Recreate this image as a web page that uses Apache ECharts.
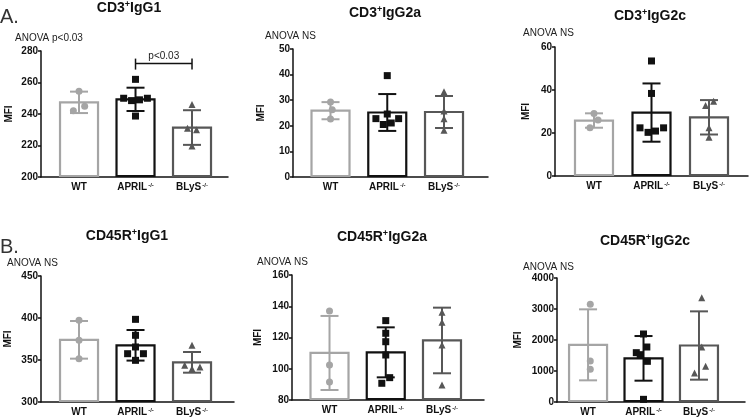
<!DOCTYPE html>
<html><head><meta charset="utf-8">
<script src="https://cdn.jsdelivr.net/npm/echarts@6/dist/echarts.min.js"></script>
<style>html,body{margin:0;padding:0;background:#fff;}#c{width:750px;height:419px;}</style>
</head><body><div id="c"></div>
<script>
// ---------- DATA ----------
const categories = ['WT', 'APRIL', 'BLyS'];
const categorySup = ['', '-/-', '-/-'];
const panelTitleMain = ['CD3', 'CD3', 'CD3', 'CD45R', 'CD45R', 'CD45R'];
const panelTitleSub = ['IgG1', 'IgG2a', 'IgG2c', 'IgG1', 'IgG2a', 'IgG2c'];
const anovaLabels = ['ANOVA p<0.03', 'ANOVA NS', 'ANOVA NS', 'ANOVA NS', 'ANOVA NS', 'ANOVA NS'];
const rowLetters = ['A.', 'B.'];
const yMin = [200, 0, 0, 300, 80, 0];
const yMax = [280, 50, 60, 450, 160, 4000];
const yInterval = [20, 10, 20, 50, 20, 1000];
const yAxisName = 'MFI';

// CD3+ IgG1
const cd3IgG1Mean = [247.4, 249.3, 231.4];
const cd3IgG1SD = [6.8, 7.4, 11.0];
const cd3IgG1WT = [254.5, 245, 242];
const cd3IgG1APRIL = [262, 250, 248.5, 249, 250, 238.7];
const cd3IgG1BLyS = [246, 231, 230, 219.7];
const cd3IgG1Bracket = [1, 2, 272, 'p<0.03'];

// CD3+ IgG2a
const cd3IgG2aMean = [25.9, 25.2, 25.4];
const cd3IgG2aSD = [3.35, 7.2, 6.25];
const cd3IgG2aWT = [29.3, 26.3, 22.7];
const cd3IgG2aAPRIL = [39.6, 24.6, 22.8, 20.5, 21.1, 22.8];
const cd3IgG2aBLyS = [33.3, 25.8, 22.8, 18.3];

// CD3+ IgG2c
const cd3IgG2cMean = [25.8, 29.5, 27.3];
const cd3IgG2cSD = [3.35, 13.55, 8.0];
const cd3IgG2cWT = [29.1, 26.0, 22.4];
const cd3IgG2cAPRIL = [53.5, 38.4, 22.4, 20.3, 20.9, 22.4];
const cd3IgG2cBLyS = [32.8, 34.8, 22.4, 18.0];

// CD45R+ IgG1
const cd45IgG1Mean = [374, 367.5, 347.2];
const cd45IgG1SD = [22.4, 18.2, 12.3];
const cd45IgG1WT = [397.2, 373.4, 351.6];
const cd45IgG1APRIL = [398.4, 379.4, 365.5, 357.5, 357.5, 349.6];
const cd45IgG1BLyS = [367.5, 343.7, 339.7, 341.7];

// CD45R+ IgG2a
const cd45IgG2aMean = [110.1, 110.5, 118.1];
const cd45IgG2aSD = [23.7, 16.0, 21.0];
const cd45IgG2aWT = [137, 102.4, 91.5];
const cd45IgG2aAPRIL = [130.8, 122.7, 117.3, 108.8, 94.3, 90.7];
const cd45IgG2aBLyS = [136.1, 129.7, 115.2, 89.6];

// CD45R+ IgG2c
const cd45IgG2cMean = [1844, 1408, 1822];
const cd45IgG2cSD = [1145, 720, 1102];
const cd45IgG2cWT = [3150, 1323, 1054];
const cd45IgG2cAPRIL = [2194, 1774, 1591, 1527, 1312, 86];
const cd45IgG2cBLyS = [3366, 1774, 1150, 935];

const panelMeans = [cd3IgG1Mean, cd3IgG2aMean, cd3IgG2cMean, cd45IgG1Mean, cd45IgG2aMean, cd45IgG2cMean];
const panelSDs = [cd3IgG1SD, cd3IgG2aSD, cd3IgG2cSD, cd45IgG1SD, cd45IgG2aSD, cd45IgG2cSD];
const panelPoints = [
  [cd3IgG1WT, cd3IgG1APRIL, cd3IgG1BLyS],
  [cd3IgG2aWT, cd3IgG2aAPRIL, cd3IgG2aBLyS],
  [cd3IgG2cWT, cd3IgG2cAPRIL, cd3IgG2cBLyS],
  [cd45IgG1WT, cd45IgG1APRIL, cd45IgG1BLyS],
  [cd45IgG2aWT, cd45IgG2aAPRIL, cd45IgG2aBLyS],
  [cd45IgG2cWT, cd45IgG2cAPRIL, cd45IgG2cBLyS]
];

// ---------- LAYOUT / STYLE ----------
// horizontal scatter spread (fraction of category spacing)
const spread = [
  [[0, 0.1, -0.1], [0, -0.21, -0.07, 0.07, 0.21, 0], [0, -0.08, 0.08, 0]],
  [[0, 0.03, 0], [0, 0, -0.2, -0.07, 0.07, 0.2], [0, 0, 0, 0]],
  [[0, 0.07, -0.07], [0, 0, -0.2, -0.06, 0.07, 0.21], [-0.06, 0.08, 0, 0]],
  [[0, 0, 0], [0, 0, 0, -0.14, 0.14, 0], [0, -0.13, 0, 0.14]],
  [[0, 0, 0], [0, 0, 0, 0, 0.07, -0.07], [0, 0, 0, 0]],
  [[0.04, 0.04, 0.04], [0, 0.06, -0.13, -0.06, 0.07, 0], [0.05, 0.05, 0.12, -0.08]]
];
const gridBox = [[41, 51, 187, 126], [293, 49, 195, 128], [555, 47, 193, 129],
                 [41, 276, 193, 126], [292, 275, 192, 125], [557, 278, 188, 124]];
const xRange = [[-0.673, 2.637], [-0.661, 2.775], [-0.678, 2.678],
                [-0.673, 2.743], [-0.667, 2.747], [-0.56, 2.83]];
const nameGaps = [27, 27, 24, 28, 29, 34];
const titlePos = [[129, 8], [385, 13], [650, 16], [127, 236], [382, 237], [645, 241]];
const anovaPos = [[15, 38], [265, 36], [523, 33], [7, 263], [257, 262], [523, 267]];
const letterPos = [[0, 17], [0, 247]];
const groupColors = ['#a5a5a5', '#111111', '#575757'];
const groupSymbols = ['circle', 'rect', 'triangle'];
const symbolSizes = [7, 7, 7];
const FONT = '"Liberation Sans", Arial, Helvetica, sans-serif';
const BAR_W = 38, CAP_W = 18;

const grids = [], xAxes = [], yAxes = [], series = [], graphics = [];

for (let p = 0; p < 6; p++) {
  const [l, t, w, h] = gridBox[p];
  grids.push({ left: l, top: t, width: w, height: h, containLabel: false });
  xAxes.push({
    type: 'value', gridIndex: p, min: xRange[p][0], max: xRange[p][1],
    axisLine: { show: true, onZero: false, lineStyle: { color: '#111', width: 1.5 } },
    axisTick: { show: false }, splitLine: { show: false },
    axisLabel: {
      customValues: [0, 1, 2], margin: 5,
      color: '#111', fontSize: 10, fontWeight: 'bold', fontFamily: FONT,
      formatter: v => {
        const i = Math.round(v);
        return categorySup[i] ? categories[i] + '{s|' + categorySup[i] + '}' : categories[i];
      },
      rich: { s: { fontSize: 6, fontWeight: 'bold', verticalAlign: 'top', fontFamily: FONT, color: '#111', padding: [0, 0, 4, 1] } }
    }
  });
  yAxes.push({
    type: 'value', gridIndex: p, min: yMin[p], max: yMax[p], interval: yInterval[p],
    name: yAxisName, nameLocation: 'middle', nameRotate: 90, nameGap: nameGaps[p],
    nameTextStyle: { fontSize: 10, fontWeight: 'bold', fontFamily: FONT, color: '#111' },
    axisLine: { show: true, onZero: false, lineStyle: { color: '#111', width: 1.5 } },
    axisTick: { show: true, length: 3, lineStyle: { color: '#111', width: 1.5 } },
    splitLine: { show: false },
    axisLabel: { fontSize: 10, fontWeight: 'bold', fontFamily: FONT, color: '#111', margin: 3,
                 formatter: v => String(v) }
  });

  const barData = panelMeans[p].map((m, i) => [i, m, panelSDs[p][i]]);
  const base = yMin[p];
  series.push({
    type: 'custom', xAxisIndex: p, yAxisIndex: p, z: 2, clip: false,
    encode: { x: 0, y: 1 },
    data: barData,
    renderItem: (params, api) => {
      const x = api.value(0), m = api.value(1), sd = api.value(2);
      const c = api.coord([x, m]);
      const b = api.coord([x, base]);
      const top = api.coord([x, m + sd]);
      const bot = api.coord([x, m - sd]);
      const col = groupColors[x];
      const ls = { stroke: col, lineWidth: 2, fill: null };
      return {
        type: 'group', children: [
          { type: 'rect', shape: { x: c[0] - BAR_W / 2, y: c[1], width: BAR_W, height: b[1] - c[1] - 1 },
            style: { fill: '#fff', stroke: col, lineWidth: 2.2 } },
          { type: 'line', shape: { x1: c[0], y1: top[1], x2: c[0], y2: bot[1] }, style: ls },
          { type: 'line', shape: { x1: c[0] - CAP_W / 2, y1: top[1], x2: c[0] + CAP_W / 2, y2: top[1] }, style: ls },
          { type: 'line', shape: { x1: c[0] - CAP_W / 2, y1: bot[1], x2: c[0] + CAP_W / 2, y2: bot[1] }, style: ls }
        ]
      };
    }
  });

  for (let g = 0; g < 3; g++) {
    series.push({
      type: 'scatter', xAxisIndex: p, yAxisIndex: p, z: 5,
      symbol: groupSymbols[g], symbolSize: symbolSizes[g],
      itemStyle: { color: groupColors[g], opacity: 1 },
      emphasis: { disabled: true },
      data: panelPoints[p][g].map((v, k) => [g + spread[p][g][k], v])
    });
  }

  graphics.push({
    type: 'text', x: titlePos[p][0], y: titlePos[p][1],
    style: {
      text: '{a|' + panelTitleMain[p] + '}{s|+}{a|' + panelTitleSub[p] + '}',
      textAlign: 'center', textVerticalAlign: 'middle',
      rich: {
        a: { fontSize: 14, fontWeight: 'bold', fontFamily: FONT, fill: '#111', color: '#111', lineHeight: 16 },
        s: { fontSize: 9, fontWeight: 'bold', fontFamily: FONT, fill: '#111', color: '#111', verticalAlign: 'top', lineHeight: 9 }
      }
    }
  });
  graphics.push({
    type: 'text', x: anovaPos[p][0], y: anovaPos[p][1],
    style: { text: anovaLabels[p], font: '10px ' + FONT, fill: '#222', textAlign: 'left', textVerticalAlign: 'middle' }
  });
}

rowLetters.forEach((t, i) => {
  graphics.push({
    type: 'text', x: letterPos[i][0], y: letterPos[i][1],
    style: { text: t, font: '20px ' + FONT, fill: '#333', textAlign: 'left', textVerticalAlign: 'middle' }
  });
});

// significance bracket in panel 1
series.push({
  type: 'custom', xAxisIndex: 0, yAxisIndex: 0, z: 6, clip: false,
  encode: { x: [0, 1], y: 2 },
  data: [cd3IgG1Bracket],
  renderItem: (params, api) => {
    const a = api.coord([api.value(0), api.value(2)]);
    const b = api.coord([api.value(1), api.value(2)]);
    const ls = { stroke: '#111', lineWidth: 1.5, fill: null };
    return {
      type: 'group', children: [
        { type: 'line', shape: { x1: a[0], y1: a[1], x2: b[0], y2: b[1] }, style: ls },
        { type: 'line', shape: { x1: a[0], y1: a[1] - 5, x2: a[0], y2: a[1] + 6 }, style: ls },
        { type: 'line', shape: { x1: b[0], y1: b[1] - 5, x2: b[0], y2: b[1] + 6 }, style: ls },
        { type: 'text', style: { text: cd3IgG1Bracket[3], x: (a[0] + b[0]) / 2, y: a[1] - 2,
            textAlign: 'center', textVerticalAlign: 'bottom', font: '10px ' + FONT, fill: '#222' } }
      ]
    };
  }
});

const chart = echarts.init(document.getElementById('c'), null, { renderer: 'canvas' });
chart.setOption({
  animation: false,
  backgroundColor: '#fff',
  grid: grids, xAxis: xAxes, yAxis: yAxes, series: series, graphic: graphics
});
</script></body></html>
